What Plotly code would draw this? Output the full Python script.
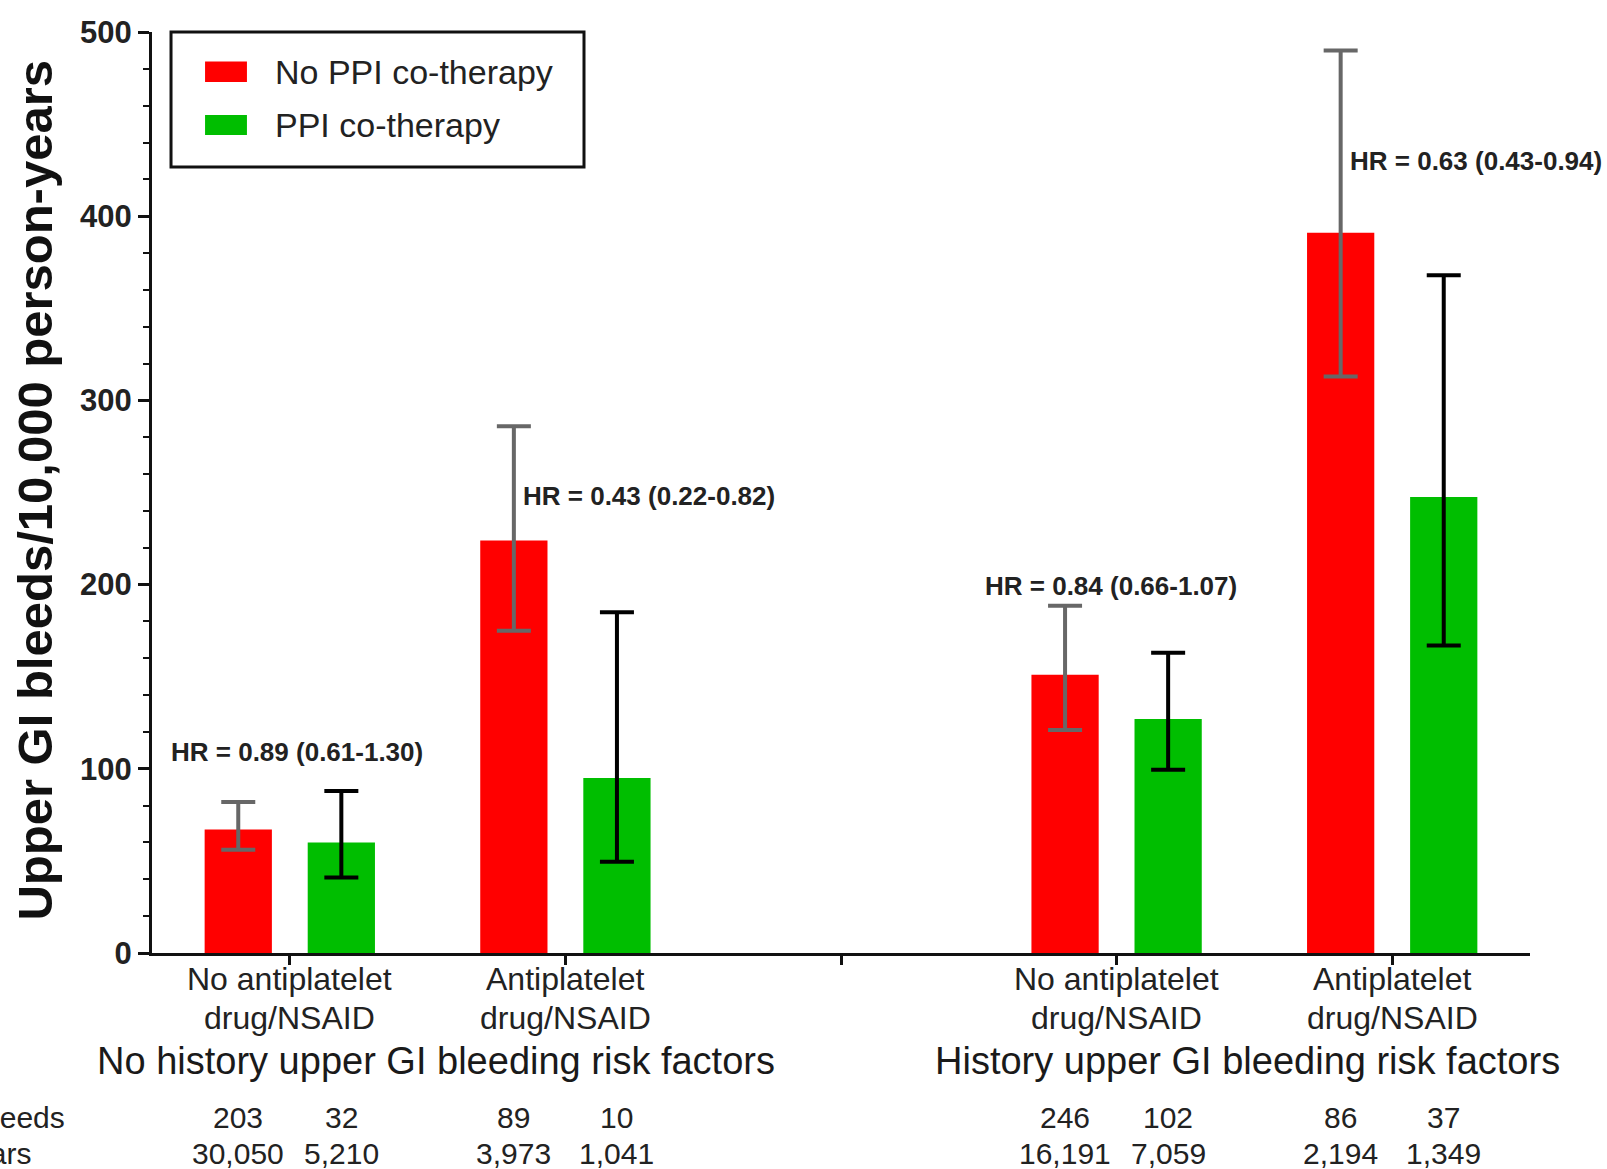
import plotly.graph_objects as go

# Category positions on the x axis (x = 2 separates the two risk-factor groups)
positions = [0, 1, 3, 4]
category_line1 = ["No antiplatelet", "Antiplatelet", "No antiplatelet", "Antiplatelet"]
category_line2 = ["drug/NSAID", "drug/NSAID", "drug/NSAID", "drug/NSAID"]
group_labels = ["No history upper GI bleeding risk factors",
                "History upper GI bleeding risk factors"]
group_centers = [0.53, 3.475]

# Incidence per 10,000 person-years with 95% CI
no_ppi_rate = [67, 224, 151, 391]
no_ppi_low = [56, 175, 121, 313]
no_ppi_high = [82, 286, 188.5, 490]

ppi_rate = [60, 95, 127, 247.5]
ppi_low = [41, 49.5, 99.5, 167]
ppi_high = [88, 185, 163, 368]

# Counts shown under the chart
no_ppi_bleeds = ["203", "89", "246", "86"]
ppi_bleeds = ["32", "10", "102", "37"]
no_ppi_years = ["30,050", "3,973", "16,191", "2,194"]
ppi_years = ["5,210", "1,041", "7,059", "1,349"]
row_titles = ["Number of bleeds", "Person-years"]

hr_labels = ["HR = 0.89 (0.61-1.30)", "HR = 0.43 (0.22-0.82)",
             "HR = 0.84 (0.66-1.07)", "HR = 0.63 (0.43-0.94)"]
hr_anchor_x = [-0.44, 0.84, 2.515, 3.84]
hr_anchor_y = [109, 248, 199, 430]

series_names = ["No PPI co-therapy", "PPI co-therapy"]

RED = "#FF0000"
GREEN = "#00BE00"
FONT = "Liberation Sans, Arial, sans-serif"
TEXT = "#222222"
BAR_OFFSET = 0.187
BAR_WIDTH = 0.244

fig = go.Figure()

fig.add_trace(go.Bar(
    name=series_names[0],
    x=[p - BAR_OFFSET for p in positions], y=no_ppi_rate, width=BAR_WIDTH,
    marker=dict(color=RED, line=dict(width=0)), showlegend=False,
    error_y=dict(type="data", symmetric=False,
                 array=[h - r for h, r in zip(no_ppi_high, no_ppi_rate)],
                 arrayminus=[r - l for r, l in zip(no_ppi_rate, no_ppi_low)],
                 color="#676767", thickness=4, width=17),
))
fig.add_trace(go.Bar(
    name=series_names[1],
    x=[p + BAR_OFFSET for p in positions], y=ppi_rate, width=BAR_WIDTH,
    marker=dict(color=GREEN, line=dict(width=0)), showlegend=False,
    error_y=dict(type="data", symmetric=False,
                 array=[h - r for h, r in zip(ppi_high, ppi_rate)],
                 arrayminus=[r - l for r, l in zip(ppi_rate, ppi_low)],
                 color="#000000", thickness=4, width=17),
))

annotations = []
shapes = []

# Hazard ratio labels
for txt, ax, ay in zip(hr_labels, hr_anchor_x, hr_anchor_y):
    annotations.append(dict(x=ax, y=ay, xref="x", yref="y", text=txt, showarrow=False,
                            xanchor="left", yanchor="middle",
                            font=dict(family=FONT, size=26, color=TEXT, weight="bold")))

# Two-line category labels under each pair of bars
for p, l1, l2 in zip(positions, category_line1, category_line2):
    for txt, shift in [(l1, -26), (l2, -65)]:
        annotations.append(dict(x=p, y=0, xref="x", yref="paper", yshift=shift, text=txt,
                                showarrow=False, xanchor="center", yanchor="middle",
                                font=dict(family=FONT, size=32, color=TEXT)))

# Risk-factor group labels
for txt, gx in zip(group_labels, group_centers):
    annotations.append(dict(x=gx, y=0, xref="x", yref="paper", yshift=-108, text=txt,
                            showarrow=False, xanchor="center", yanchor="middle",
                            font=dict(family=FONT, size=38, color="#1a1a1a")))

# Count table below the axis
rows = [(no_ppi_bleeds, ppi_bleeds, -164), (no_ppi_years, ppi_years, -200)]
for red_vals, green_vals, shift in rows:
    for p, rv, gv in zip(positions, red_vals, green_vals):
        annotations.append(dict(x=p - BAR_OFFSET, y=0, xref="x", yref="paper", yshift=shift,
                                text=rv, showarrow=False, xanchor="center", yanchor="middle",
                                font=dict(family=FONT, size=30, color=TEXT)))
        annotations.append(dict(x=p + BAR_OFFSET, y=0, xref="x", yref="paper", yshift=shift,
                                text=gv, showarrow=False, xanchor="center", yanchor="middle",
                                font=dict(family=FONT, size=30, color=TEXT)))

for txt, rx, shift in zip(row_titles, [-0.062, -0.086], [-164, -200]):
    annotations.append(dict(x=rx, y=0, xref="paper", yref="paper", yshift=shift,
                            text=txt, showarrow=False, xanchor="right", yanchor="middle",
                            font=dict(family=FONT, size=30, color=TEXT)))

# Y axis title
annotations.append(dict(x=-0.085, y=0.503, xref="paper", yref="paper",
                        text="Upper GI bleeds/10,000 person-years", textangle=-90,
                        showarrow=False, xanchor="center", yanchor="middle",
                        font=dict(family=FONT, size=49, color="#111111", weight="bold")))

# Legend box with colour swatches
shapes.append(dict(type="rect", xref="paper", yref="paper", x0=0.0138, x1=0.3135,
                   y0=0.8534, y1=1.0, line=dict(color="#111111", width=3),
                   fillcolor="white", layer="above"))
for color, name, y0, y1, yc in [(RED, series_names[0], 0.9457, 0.968, 0.957),
                                (GREEN, series_names[1], 0.8882, 0.9099, 0.899)]:
    shapes.append(dict(type="rect", xref="paper", yref="paper", x0=0.0385, x1=0.0689,
                       y0=y0, y1=y1, line=dict(width=0), fillcolor=color, layer="above"))
    annotations.append(dict(x=0.0875, y=yc, xref="paper", yref="paper", text=name,
                            showarrow=False, xanchor="left", yanchor="middle",
                            font=dict(family=FONT, size=34, color=TEXT)))

fig.update_layout(
    width=1607, height=1169,
    margin=dict(l=152, r=77, t=32, b=216),
    plot_bgcolor="white", paper_bgcolor="white",
    barmode="overlay",
    showlegend=False,
    annotations=annotations,
    shapes=shapes,
    xaxis=dict(range=[-0.5, 4.5], showgrid=False, zeroline=False,
               showline=True, linecolor="#111111", linewidth=3,
               ticks="outside", ticklen=9, tickwidth=3, tickcolor="#111111",
               tickvals=[0, 1, 2, 3, 4], showticklabels=False),
    yaxis=dict(range=[0, 500], showgrid=False, zeroline=False,
               showline=True, linecolor="#111111", linewidth=3,
               ticks="outside", ticklen=11, tickwidth=3, tickcolor="#111111",
               tickvals=[0, 100, 200, 300, 400, 500],
               tickfont=dict(family=FONT, size=31, color=TEXT, weight="bold"),
               minor=dict(dtick=20, ticks="outside", ticklen=6, tickwidth=2,
                          tickcolor="#111111")),
)

fig.write_html("out.html")
